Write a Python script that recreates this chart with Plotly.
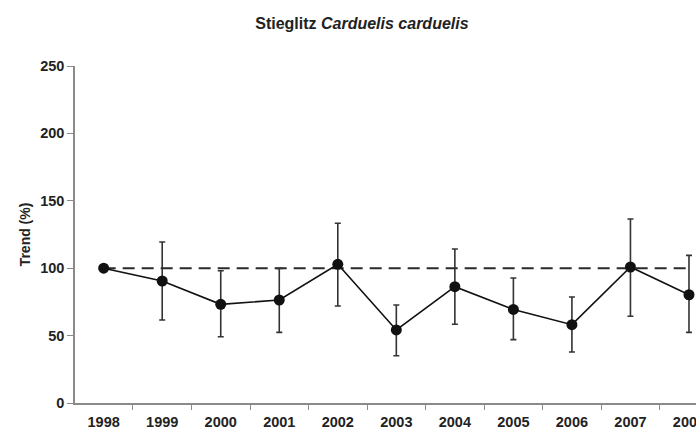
import plotly.graph_objects as go

years = ["1998", "1999", "2000", "2001", "2002", "2003", "2004", "2005", "2006", "2007", "2008"]
trend = [100, 90.5, 73.2, 76.4, 102.9, 54.2, 86.3, 69.4, 58.1, 100.9, 80.3]
upper = [100, 119.4, 98.1, 99.9, 133.3, 72.7, 114.2, 92.7, 78.6, 136.5, 109.5]
lower = [100, 61.6, 49.2, 52.4, 72.0, 35.1, 58.4, 47.0, 37.8, 64.3, 52.4]
baseline = [100] * len(years)

err_plus = [u - t for u, t in zip(upper, trend)]
err_minus = [t - l for t, l in zip(trend, lower)]

txt = "#222222"
axc = "#8a8a8a"
font = "Liberation Sans, Arial, sans-serif"

fig = go.Figure()
fig.add_trace(go.Scatter(
    x=years, y=baseline, mode="lines",
    line=dict(color="#2a2a2a", width=2, dash="12px,7px"),
    hoverinfo="skip", showlegend=False,
))
fig.add_trace(go.Scatter(
    x=years, y=trend, mode="lines+markers",
    line=dict(color="#111111", width=1.6),
    marker=dict(color="#111111", size=11),
    error_y=dict(type="data", symmetric=False, array=err_plus, arrayminus=err_minus,
                 color="#333333", thickness=1.6, width=3),
    showlegend=False,
))

tickf = dict(size=14.5, color=txt, family=font, weight="bold")

fig.update_layout(
    width=696, height=433,
    margin=dict(l=75, r=0, t=66, b=30),
    paper_bgcolor="white", plot_bgcolor="white",
    font=dict(family=font, size=13, color=txt),
    title=dict(text="Stieglitz <i>Carduelis carduelis</i>", x=0.52, xanchor="center",
               y=0.947, yanchor="middle", font=dict(size=16, color=txt, family=font, weight="bold")),
    xaxis=dict(
        type="category", range=[-0.49, 10.12], automargin=False,
        tickson="boundaries", ticks="outside", ticklen=5, tickcolor=axc,
        showline=True, linecolor=axc, linewidth=1.5, showgrid=False, zeroline=False,
        tickfont=tickf, ticklabelstandoff=5,
    ),
    yaxis=dict(
        range=[0, 250], tickvals=[0, 50, 100, 150, 200, 250], automargin=False,
        ticks="outside", ticklen=6, tickcolor=axc,
        showline=True, linecolor=axc, linewidth=1.5, showgrid=False, zeroline=False,
        tickfont=tickf,
        title=dict(text="Trend (%)", font=dict(size=14, color=txt, family=font, weight="bold"), standoff=6),
    ),
)

fig.write_html("out.html")
